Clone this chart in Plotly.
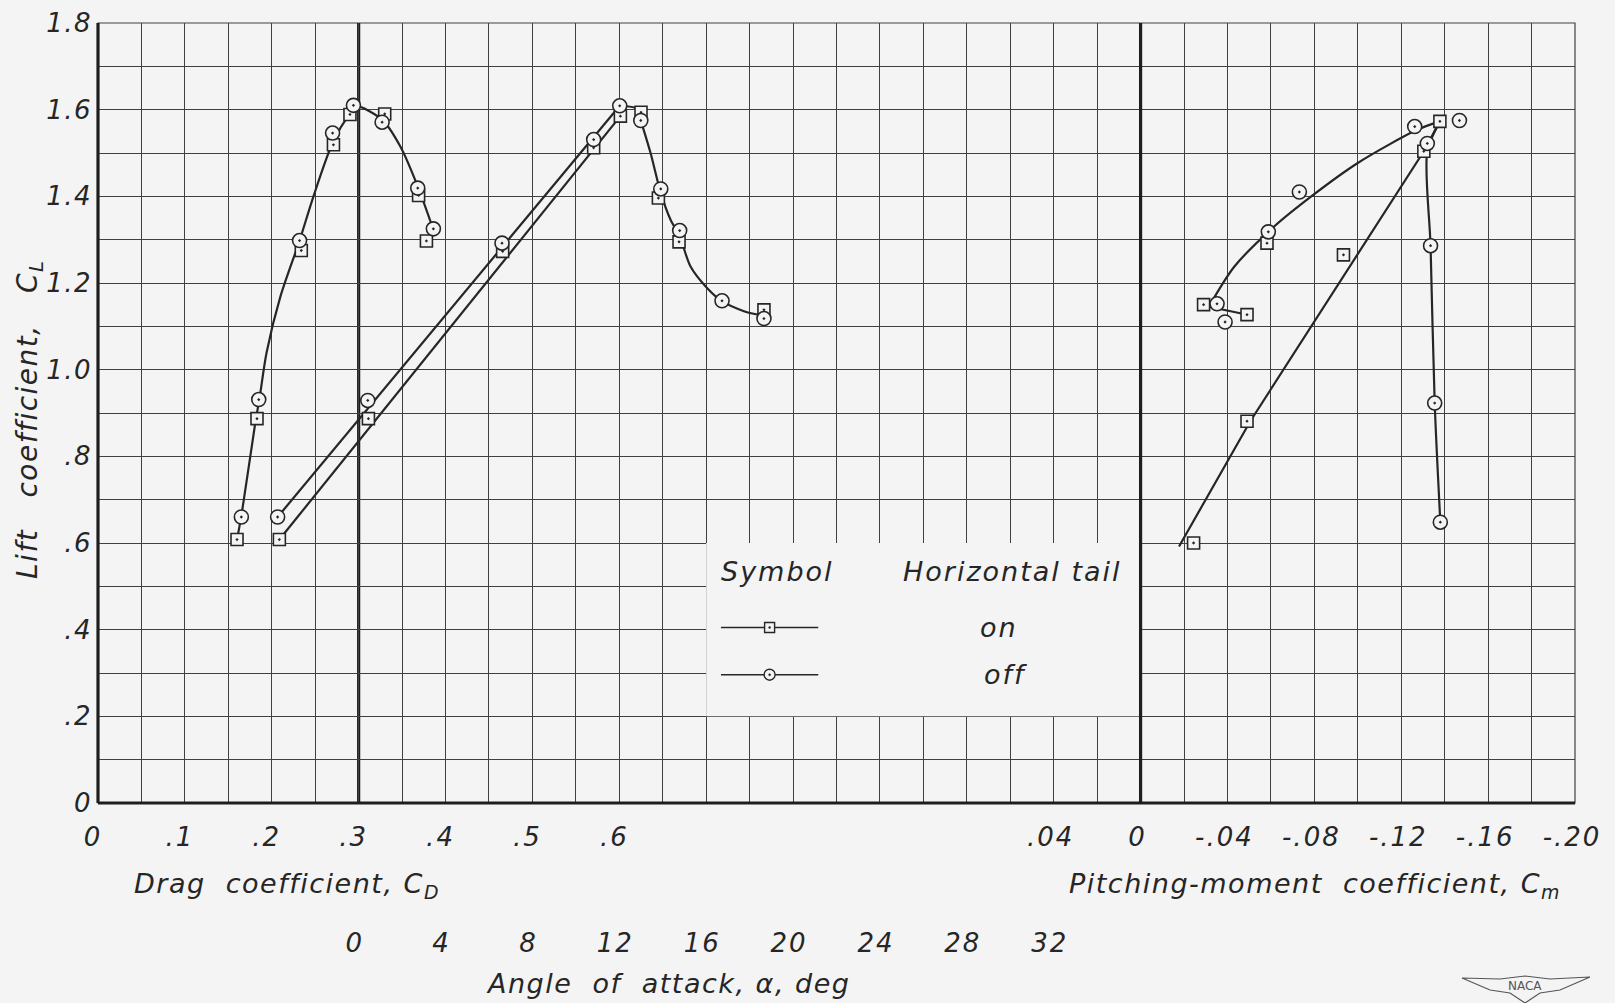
import plotly.graph_objects as go

# ---------------- Drag polar (C_L vs C_D) ----------------
cd_on = [0.160, 0.183, 0.234, 0.271, 0.290, 0.330, 0.369, 0.378]
cl_drag_on = [0.608, 0.887, 1.275, 1.519, 1.589, 1.590, 1.402, 1.297]
cd_off = [0.165, 0.185, 0.232, 0.270, 0.294, 0.327, 0.368, 0.386]
cl_drag_off = [0.660, 0.931, 1.298, 1.546, 1.610, 1.571, 1.419, 1.325]
# faired curve through the polar
fair_drag_cd = [0.160, 0.1655, 0.181, 0.186, 0.194, 0.210, 0.232, 0.248, 0.270, 0.290, 0.297, 0.327, 0.348, 0.368, 0.386]
fair_drag_cl = [0.608, 0.669, 0.877, 0.935, 1.039, 1.169, 1.298, 1.400, 1.523, 1.592, 1.608, 1.577, 1.515, 1.423, 1.323]

# ---------------- Lift curve (C_L vs alpha) ----------------
alpha_on = [-3.65, 0.45, 6.63, 10.82, 12.05, 13.0, 13.8, 14.75, 18.66]
cl_alpha_on = [0.608, 0.887, 1.273, 1.512, 1.585, 1.594, 1.396, 1.295, 1.138]
alpha_off = [-3.73, 0.42, 6.60, 10.82, 12.02, 12.99, 13.91, 14.78, 16.73, 18.66]
cl_alpha_off = [0.660, 0.929, 1.292, 1.531, 1.609, 1.575, 1.417, 1.321, 1.159, 1.118]
fair_lift_on_alpha = [-3.65, 12.05]
fair_lift_on_cl = [0.608, 1.585]
fair_lift_off_alpha = [-3.73, 12.02]
fair_lift_off_cl = [0.660, 1.609]
fair_stall_alpha = [12.02, 12.82, 12.99, 13.44, 13.91, 14.36, 14.78, 15.28, 16.05, 16.73, 17.74, 18.58]
fair_stall_cl = [1.609, 1.602, 1.575, 1.500, 1.408, 1.346, 1.308, 1.238, 1.188, 1.158, 1.135, 1.125]

# ---------------- Pitching moment (C_L vs C_m) ----------------
cm_on = [-0.0244, -0.049, -0.0934, -0.1304, -0.1378, -0.0582, -0.029, -0.049]
cl_cm_on = [0.600, 0.881, 1.265, 1.504, 1.573, 1.292, 1.150, 1.127]
cm_off = [-0.138, -0.1354, -0.1335, -0.132, -0.1468, -0.1262, -0.0731, -0.0588, -0.0352, -0.0389]
cl_cm_off = [0.648, 0.923, 1.286, 1.522, 1.575, 1.561, 1.410, 1.318, 1.152, 1.110]
fair_cm_on_line_cm = [-0.0177, -0.0505, -0.1304, -0.1378]
fair_cm_on_line_cl = [0.592, 0.881, 1.504, 1.573]
fair_cm_on_curve_cm = [-0.1378, -0.1275, -0.100, -0.0786, -0.0616, -0.0432, -0.0335]
fair_cm_on_curve_cl = [1.573, 1.554, 1.477, 1.400, 1.331, 1.238, 1.163]
fair_cm_hook_cm = [-0.0335, -0.0316, -0.047]
fair_cm_hook_cl = [1.163, 1.145, 1.129]
fair_cm_off_cm = [-0.138, -0.1354, -0.1335, -0.132, -0.1378]
fair_cm_off_cl = [0.648, 0.923, 1.286, 1.504, 1.573]

# ---------------- Tick labels ----------------
cd_ticks = [0, 0.1, 0.2, 0.3, 0.4, 0.5, 0.6]
cd_tick_text = ["0", ".1", ".2", ".3", ".4", ".5", ".6"]
alpha_ticks = [0, 4, 8, 12, 16, 20, 24, 28, 32]
alpha_tick_text = ["0", "4", "8", "12", "16", "20", "24", "28", "32"]
cm_ticks = [0.04, 0, -0.04, -0.08, -0.12, -0.16, -0.20]
cm_tick_text = [".04", "0", "-.04", "-.08", "-.12", "-.16", "-.20"]
cl_ticks = [0, 0.2, 0.4, 0.6, 0.8, 1.0, 1.2, 1.4, 1.6, 1.8]
cl_tick_text = ["0", ".2", ".4", ".6", ".8", "1.0", "1.2", "1.4", "1.6", "1.8"]

BG = "#f4f4f4"
INK = "#262626"
GRID = "#404040"
FONT = "DejaVu Sans"

W, H = 1615, 1003
ML, MR, MT, MB = 98, 40, 23, 200
PW, PH = W - ML - MR, H - MT - MB


def px(x):
    return (x - ML) / PW


def py(y):
    return (MT + PH - y) / PH


def spaced(text, gap=1.5):
    """Hand-lettered look: widen the letter spacing of a label."""
    return f'<span style="letter-spacing:{gap}px">{text}</span>'


fig = go.Figure()


def curve(x, y, axis, shape="linear"):
    fig.add_trace(go.Scatter(
        x=x, y=y, xaxis=axis, yaxis="y", mode="lines",
        line=dict(color=INK, width=2.2, shape=shape, smoothing=0.8),
        hoverinfo="skip", showlegend=False))


def points(x, y, axis, symbol, size):
    fig.add_trace(go.Scatter(
        x=x, y=y, xaxis=axis, yaxis="y", mode="markers",
        marker=dict(symbol=symbol, size=size, color=BG,
                    line=dict(color=INK, width=1.6)),
        showlegend=False))


# faired curves
curve(fair_drag_cd, fair_drag_cl, "x", "spline")
curve(fair_lift_on_alpha, fair_lift_on_cl, "x2")
curve(fair_lift_off_alpha, fair_lift_off_cl, "x2")
curve(fair_stall_alpha, fair_stall_cl, "x2", "spline")
curve(fair_cm_on_line_cm, fair_cm_on_line_cl, "x3")
curve(fair_cm_on_curve_cm, fair_cm_on_curve_cl, "x3", "spline")
curve(fair_cm_hook_cm, fair_cm_hook_cl, "x3")
curve(fair_cm_off_cm, fair_cm_off_cl, "x3", "spline")

# test points
points(cd_on, cl_drag_on, "x", "square-dot", 12)
points(cd_off, cl_drag_off, "x", "circle-dot", 14)
points(alpha_on, cl_alpha_on, "x2", "square-dot", 12)
points(alpha_off, cl_alpha_off, "x2", "circle-dot", 14)
points(cm_on, cl_cm_on, "x3", "square-dot", 12)
points(cm_off, cl_cm_off, "x3", "circle-dot", 14)

tick_font = dict(family=FONT, size=26, color=INK, style="italic")

fig.update_layout(
    width=W, height=H,
    margin=dict(l=ML, r=MR, t=MT, b=MB, autoexpand=False),
    paper_bgcolor=BG, plot_bgcolor=BG,
    showlegend=False,
    xaxis=dict(
        range=[0, 1.7], domain=[0, 1], tickmode="array", automargin=False,
        tickvals=cd_ticks, ticktext=[spaced(t, 2) for t in cd_tick_text], tickfont=tick_font,
        ticks="", ticklabelstandoff=16, ticklabelshift=-5, ticklabeloverflow="allow",
        showgrid=True, gridcolor=GRID, gridwidth=1.2, zeroline=False,
        minor=dict(tickmode="linear", tick0=0, dtick=0.05, showgrid=True,
                   gridcolor=GRID, gridwidth=1.2, ticks=""),
        showline=False, fixedrange=True),
    xaxis2=dict(
        range=[-12, 56], overlaying="x", anchor="y", side="bottom", automargin=False,
        tickmode="array", tickvals=alpha_ticks, ticktext=[spaced(t, 2) for t in alpha_tick_text],
        tickfont=tick_font, ticks="", ticklabelstandoff=122, ticklabelshift=-4,
        ticklabeloverflow="allow",
        showgrid=False, zeroline=False, showline=False),
    xaxis3=dict(
        range=[0.48, -0.20], overlaying="x", anchor="y", side="bottom", automargin=False,
        tickmode="array", tickvals=cm_ticks, ticktext=[spaced(t, 2) for t in cm_tick_text],
        tickfont=tick_font, ticks="", ticklabelstandoff=16, ticklabelshift=3,
        ticklabeloverflow="allow",
        showgrid=False, zeroline=False, showline=False),
    yaxis=dict(
        range=[0, 1.8], domain=[0, 1], tickmode="array", automargin=False,
        tickvals=cl_ticks, ticktext=[spaced(t, 1.5) for t in cl_tick_text], tickfont=tick_font,
        ticks="", ticklabelstandoff=5, ticklabeloverflow="allow",
        showgrid=True, gridcolor=GRID, gridwidth=1.2, zeroline=False,
        minor=dict(tickmode="linear", tick0=0, dtick=0.1, showgrid=True,
                   gridcolor=GRID, gridwidth=1.2, ticks=""),
        showline=False),
)

shapes = []
# thin outer frame
shapes.append(dict(type="rect", xref="paper", yref="paper", x0=0, x1=1, y0=0, y1=1,
                   line=dict(color=GRID, width=1.2), layer="below"))
# legend panel
shapes.append(dict(type="rect", xref="x", yref="y", x0=0.7, x1=1.2, y0=0.2, y1=0.6,
                   fillcolor=BG, line=dict(width=0), layer="above"))
# heavy reference lines
heavy = dict(color="#1e1e1e", width=3.2)
shapes.append(dict(type="line", xref="paper", yref="paper", x0=0, x1=0, y0=0, y1=1, line=heavy, layer="above"))
shapes.append(dict(type="line", xref="paper", yref="paper", x0=0, x1=1, y0=0, y1=0, line=heavy, layer="above"))
shapes.append(dict(type="line", xref="x2", yref="paper", x0=0, x1=0, y0=0, y1=1, line=heavy, layer="below"))
shapes.append(dict(type="line", xref="x3", yref="paper", x0=0, x1=0, y0=0, y1=1, line=heavy, layer="above"))

# legend samples
for yv, kind in [(0.405, "rect"), (0.296, "circle")]:
    shapes.append(dict(type="line", xref="x", yref="y", x0=0.717, x1=0.829, y0=yv, y1=yv,
                       line=dict(color=INK, width=1.4), layer="above"))
    s = 5 if kind == "rect" else 5.5
    shapes.append(dict(type=kind, xref="x", yref="y", xsizemode="pixel", ysizemode="pixel",
                       xanchor=0.773, yanchor=yv, x0=-s, x1=s, y0=-s, y1=s,
                       fillcolor=BG, line=dict(color=INK, width=1.4), layer="above"))
    shapes.append(dict(type="circle", xref="x", yref="y", xsizemode="pixel", ysizemode="pixel",
                       xanchor=0.773, yanchor=yv, x0=-1, x1=1, y0=-1, y1=1,
                       fillcolor=INK, line=dict(color=INK, width=0.5), layer="above"))

# NACA emblem
wing = [(1462, 978), (1500, 979), (1525, 976), (1550, 979), (1590, 977),
        (1560, 990), (1540, 993), (1525, 1003), (1510, 993), (1490, 990)]
path = "M " + " L ".join(f"{px(x):.5f},{py(y):.5f}" for x, y in wing) + " Z"
shapes.append(dict(type="path", xref="paper", yref="paper", path=path,
                   line=dict(color="#555555", width=1.2), fillcolor=BG))
fig.update_layout(shapes=shapes)

title_font = dict(family=FONT, size=27, color=INK, style="italic")
legend_font = dict(family=FONT, size=27, color=INK, style="italic")
nb = "\u00a0"
ann = [
    dict(x=px(29), y=py(420), xref="paper", yref="paper", textangle=-90,
         text=spaced(f"Lift{nb*3}coefficient,{nb*3}C<sub>L</sub>", 1.5),
         font=dict(family=FONT, size=28, color=INK, style="italic")),
    dict(x=px(287), y=py(885), xref="paper", yref="paper",
         text=spaced(f"Drag{nb*2}coefficient,{nb}C<sub>D</sub>", 1.5), font=title_font),
    dict(x=px(1315), y=py(885), xref="paper", yref="paper",
         text=spaced(f"Pitching-moment{nb*2}coefficient,{nb}C<sub>m</sub>", 1.5), font=title_font),
    dict(x=px(668), y=py(983), xref="paper", yref="paper",
         text=spaced(f"Angle{nb*2}of{nb*2}attack,{nb}\u03b1,{nb}deg", 1.5), font=title_font),
    # legend text
    dict(x=0.7826, y=0.534, xref="x", yref="y", text=spaced("Symbol", 2), font=legend_font),
    dict(x=1.052, y=0.534, xref="x", yref="y", text=spaced(f"Horizontal{nb}tail", 2), font=legend_font),
    dict(x=1.037, y=0.405, xref="x", yref="y", text=spaced("on", 2), font=legend_font),
    dict(x=1.045, y=0.296, xref="x", yref="y", text=spaced("off", 2), font=legend_font),
    dict(x=px(1525), y=py(986), xref="paper", yref="paper", text="NACA",
         font=dict(family=FONT, size=12, color="#555555")),
]
for a in ann:
    a.setdefault("showarrow", False)
    a.setdefault("xanchor", "center")
    a.setdefault("yanchor", "middle")
fig.update_layout(annotations=ann)

fig.write_html("out.html")
